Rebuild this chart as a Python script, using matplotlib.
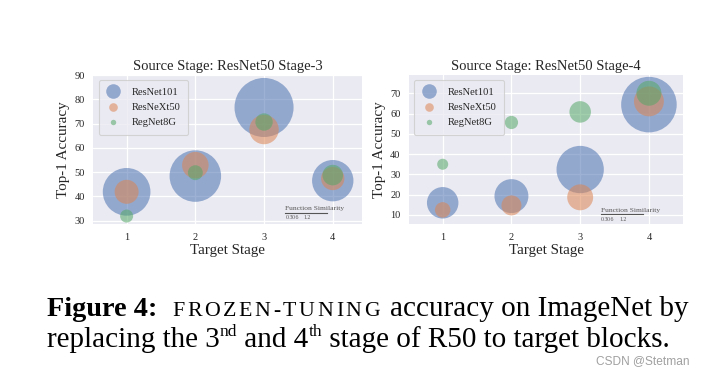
import matplotlib
matplotlib.use('Agg')
import matplotlib.pyplot as plt
import seaborn as sns
from matplotlib.lines import Line2D

# ---------------- data ----------------
stages = [1, 2, 3, 4]
model_names = ['ResNet101', 'ResNeXt50', 'RegNet8G']

# Source stage 3 : top-1 accuracy
s3_resnet101_acc = [41.9, 48.4, 76.7, 46.5]
s3_resnext50_acc = [41.9, 52.9, 67.6, 47.4]
s3_regnet8g_acc = [31.9, 49.8, 70.7, 48.8]
# Source stage 3 : function similarity (bubble size)
s3_resnet101_sim = [1.42, 1.66, 2.18, 1.07]
s3_resnext50_sim = [0.36, 0.44, 0.54, 0.34]
s3_regnet8g_sim = [0.106, 0.14, 0.19, 0.265]

# Source stage 4 : top-1 accuracy
s4_resnet101_acc = [16.0, 19.3, 32.4, 64.4]
s4_resnext50_acc = [12.5, 14.7, 18.7, 66.0]
s4_regnet8g_acc = [35.0, 55.6, 60.8, 70.0]
# Source stage 4 : function similarity (bubble size)
s4_resnet101_sim = [0.62, 0.72, 1.40, 1.93]
s4_resnext50_sim = [0.15, 0.25, 0.42, 0.56]
s4_regnet8g_sim = [0.076, 0.11, 0.29, 0.39]

scale_ticks = [0.3, 0.6, 1.2]

titles = ['Source Stage: ResNet50 Stage-3', 'Source Stage: ResNet50 Stage-4']

# ---------------- style ----------------
sns.set_theme(style='darkgrid')
plt.rcParams['font.family'] = ['Liberation Serif', 'DejaVu Serif']
colors = ['#4C72B0', '#DD8452', '#55A868']
ALPHA = 0.55
SIZE_K = 829.0  # points^2 per unit similarity

fig = plt.figure(figsize=(7.04, 3.74), dpi=100)
fig.patch.set_facecolor('white')

W, H = 704.0, 374.0
ax1 = fig.add_axes([93.3 / W, (H - 224.3) / H, 269.0 / W, 149.3 / H])
ax2 = fig.add_axes([409.0 / W, (H - 224.3) / H, 274.3 / W, 149.3 / H])

panels = [
    (ax1, [s3_resnet101_acc, s3_resnext50_acc, s3_regnet8g_acc],
     [s3_resnet101_sim, s3_resnext50_sim, s3_regnet8g_sim],
     (0.515, 4.43), (28.5, 90.1), [30, 40, 50, 60, 70, 80, 90],
     [0.713, 0.078, 0.156]),
    (ax2, [s4_resnet101_acc, s4_resnext50_acc, s4_regnet8g_acc],
     [s4_resnet101_sim, s4_resnext50_sim, s4_regnet8g_sim],
     (0.51, 4.5), (5.4, 79.0), [10, 20, 30, 40, 50, 60, 70],
     [0.699, 0.069, 0.153]),
]

for i, (ax, accs, sims, xl, yl, yt, ins) in enumerate(panels):
    ax.set_facecolor('#EAEAF2')
    for acc, sim, c in zip(accs, sims, colors):
        ax.scatter(stages, acc, s=[v * SIZE_K for v in sim], color=c,
                   alpha=ALPHA, linewidths=0, zorder=3)
    ax.set_xlim(*xl)
    ax.set_ylim(*yl)
    ax.set_xticks(stages)
    ax.set_yticks(yt)
    ax.tick_params(axis='both', labelsize=7.5, length=0, pad=6.2,
                   labelcolor='#262626')
    ax.grid(True, color='white', linewidth=0.9)
    for sp in ax.spines.values():
        sp.set_visible(False)
    ax.set_title(titles[i], fontsize=10.5, pad=3.5, color='#262626')
    ax.set_xlabel('Target Stage', fontsize=10.8, labelpad=1.5, color='#262626')
    ax.set_ylabel('Top-1 Accuracy', fontsize=10.8, labelpad=3, color='#262626')

    handles = [Line2D([], [], marker='o', linestyle='none', markersize=ms,
                      markerfacecolor=c, markeredgewidth=0, alpha=ALPHA)
               for ms, c in zip([10.5, 6.2, 3.9], colors)]
    leg = ax.legend(handles, model_names, loc='upper left', fontsize=7.6,
                    frameon=True, labelspacing=0.55, handlelength=1.35,
                    handletextpad=1.1, borderpad=0.7, borderaxespad=0.5)
    leg.get_frame().set_facecolor('#EAEAF2')
    leg.get_frame().set_edgecolor('#CCCCCC')
    leg.get_frame().set_alpha(0.8)
    leg.get_frame().set_linewidth(0.8)

    # function similarity scale
    iax = ax.inset_axes([ins[0], ins[1], ins[2], 0.002])
    iax.set_facecolor('none')
    iax.patch.set_alpha(0)
    iax.grid(False)
    for k, sp in iax.spines.items():
        sp.set_visible(k == 'bottom')
    iax.spines['bottom'].set_color('#555555')
    iax.spines['bottom'].set_linewidth(0.8)
    iax.set_xlim(0.1, 2.2)
    iax.set_xticks(scale_ticks)
    iax.set_xticklabels([f'{v:g}' for v in scale_ticks])
    iax.set_yticks([])
    iax.tick_params(axis='x', labelsize=4.2, length=2, width=0.6,
                    direction='inout', pad=1, colors='#555555',
                    labelcolor='#555555')
    iax.set_title('Function Similarity', fontsize=5.4, pad=1.5,
                  color='#555555', loc='left')

# ---------------- caption ----------------
fig.canvas.draw()
renderer = fig.canvas.get_renderer()
S = 21.0
serif = 'Liberation Serif'


def draw_runs(runs, x_px, base_px):
    x = x_px
    for txt, size, weight, rise, gap in runs:
        x += gap
        t = fig.text(x / W, (H - base_px + rise) / H, txt, fontsize=size,
                     fontweight=weight, family=serif, ha='left',
                     va='baseline', color='black')
        x += t.get_window_extent(renderer).width


line1 = [('Figure 4:', S * 0.97, 'bold', 0, 0)]
for k, ch in enumerate('FROZEN-TUNING'):
    line1.append((ch, S * 0.75, 'normal', 0, 15 if k == 0 else 2.6))
line1.append(('accuracy on ImageNet by', S, 'normal', 0, 10))
line2 = [('replacing the 3', S, 'normal', 0, 0), ('nd', S * 0.6, 'normal', 11, 0),
         (' and 4', S, 'normal', 0, 0), ('th', S * 0.6, 'normal', 11, 0),
         (' stage of R50 to target blocks.', S, 'normal', 0, 0)]
draw_runs(line1, 47, 316)
draw_runs(line2, 47, 347)

fig.text(690 / W, (H - 364) / H, 'CSDN @Stetman', fontsize=8.6,
         family='Liberation Sans', color='#a0a0a0', ha='right', va='baseline')

fig.savefig('out.png', dpi=100, facecolor='white')
